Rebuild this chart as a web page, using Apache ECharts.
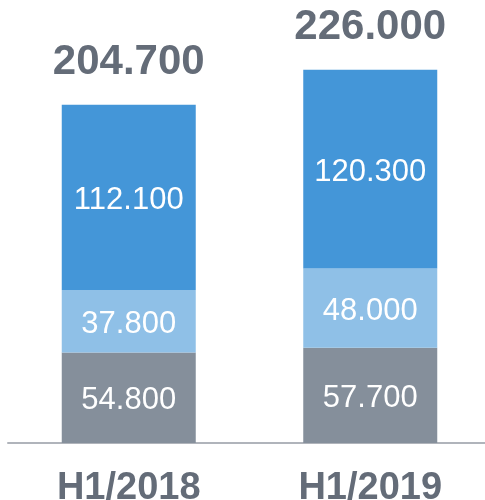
<!DOCTYPE html>
<html>
<head>
<meta charset="utf-8">
<style>
  html, body { margin: 0; padding: 0; background: #fff; }
  #chart { width: 485px; height: 500px; }
</style>
<script src="https://cdn.jsdelivr.net/npm/echarts@6/dist/echarts.min.js"></script>
</head>
<body>
<div id="chart"></div>
<script>
var categories = ['H1/2018', 'H1/2019'];
var bottomValues = [54800, 57700];
var middleValues = [37800, 48000];
var topValues = [112100, 120300];
var totals = [204700, 226000];

var FONT = "'Liberation Sans', Arial, sans-serif";
var DARK = '#646c78';

function fmt(v) {
    return String(v).replace(/\B(?=(\d{3})+(?!\d))/g, '.');
}

var chart = echarts.init(document.getElementById('chart'));

function segLabel() {
    return {
        show: true,
        position: 'inside',
        offset: [0, 3],
        color: '#fff',
        fontSize: 31,
        fontFamily: FONT,
        formatter: function (p) { return fmt(p.value); }
    };
}

var option = {
    animation: false,
    grid: { left: 8, width: 483, top: 30, height: 413, outerBoundsMode: 'none', containLabel: false },
    xAxis: {
        type: 'category',
        data: categories,
        axisLine: { lineStyle: { color: '#b0b4bb', width: 2 } },
        axisTick: { show: false },
        axisLabel: {
            color: DARK,
            fontSize: 38,
            fontWeight: 'bold',
            fontFamily: FONT,
            margin: 27
        }
    },
    yAxis: {
        type: 'value',
        min: 0,
        max: 250000,
        show: false,
        splitLine: { show: false }
    },
    series: [
        {
            type: 'bar', stack: 'a', barWidth: 134,
            data: bottomValues,
            itemStyle: { color: '#858f9b' },
            label: segLabel()
        },
        {
            type: 'bar', stack: 'a',
            data: middleValues,
            itemStyle: { color: '#8fc0e7' },
            label: segLabel()
        },
        {
            type: 'bar', stack: 'a',
            data: topValues,
            itemStyle: { color: '#4496d8' },
            label: segLabel()
        },
        {
            type: 'bar', barWidth: 134, barGap: '-100%',
            data: totals,
            itemStyle: { color: 'transparent' },
            silent: true,
            z: 1,
            label: {
                show: true,
                position: 'top',
                distance: 21,
                color: DARK,
                fontSize: 42,
                fontWeight: 'bold',
                fontFamily: FONT,
                formatter: function (p) { return fmt(p.value); }
            }
        }
    ]
};

chart.setOption(option);
</script>
</body>
</html>
